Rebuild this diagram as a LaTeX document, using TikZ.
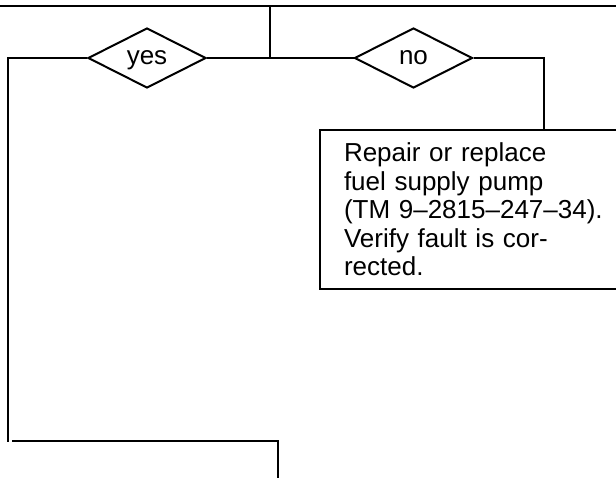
\documentclass[tikz,border=0pt]{standalone}
\usepackage{fontspec}
\setmainfont{Liberation Sans}
\usetikzlibrary{shapes.geometric}
\begin{document}
\begin{tikzpicture}[x=1pt,y=-1pt,line width=2pt,
  decision/.style={diamond,draw,fill=white,minimum width=118pt,minimum height=60pt,inner sep=0pt,
    text height=14pt,text depth=0pt,font=\fontsize{26}{28}\selectfont},
  actionbox/.style={draw,rectangle,anchor=north west,inner xsep=24pt,inner ysep=0pt,
    minimum height=159pt,text width=290pt,align=left,
    font=\fontsize{26}{28.5}\selectfont},
  wire/.style={line width=2pt}]
\useasboundingbox (0,0) rectangle (616,478);
\clip (0,0) rectangle (616,478);
\coordinate (tl) at (-5,6);
\coordinate (tr) at (625,6);
\coordinate (j) at (270,6);
\coordinate (m) at (270,58);
\coordinate (lc) at (8,58);
\coordinate (lb) at (8,442);
\coordinate (fixtop) at (544,129);
\coordinate (b1) at (12,441);
\coordinate (b3) at (278,485);
\node[decision] (yes) at (147,58) {yes};
\node[decision] (no) at (413.5,58) {no};
\node[actionbox] (fix) at (319,129) {Repair or replace\\fuel supply pump\\(TM 9–2815–247–34).\\Verify fault is cor-\\rected.};
\draw[wire] (tl) -- (tr);
\draw[wire] (j) -- (m);
\draw[wire] (yes.east) -- (no.west);
\draw[wire] (yes.west) -- (lc) -- (lb);
\draw[wire] (no.east) -| (fixtop);
\draw[wire] (b1) -| (b3);
\end{tikzpicture}
\end{document}
